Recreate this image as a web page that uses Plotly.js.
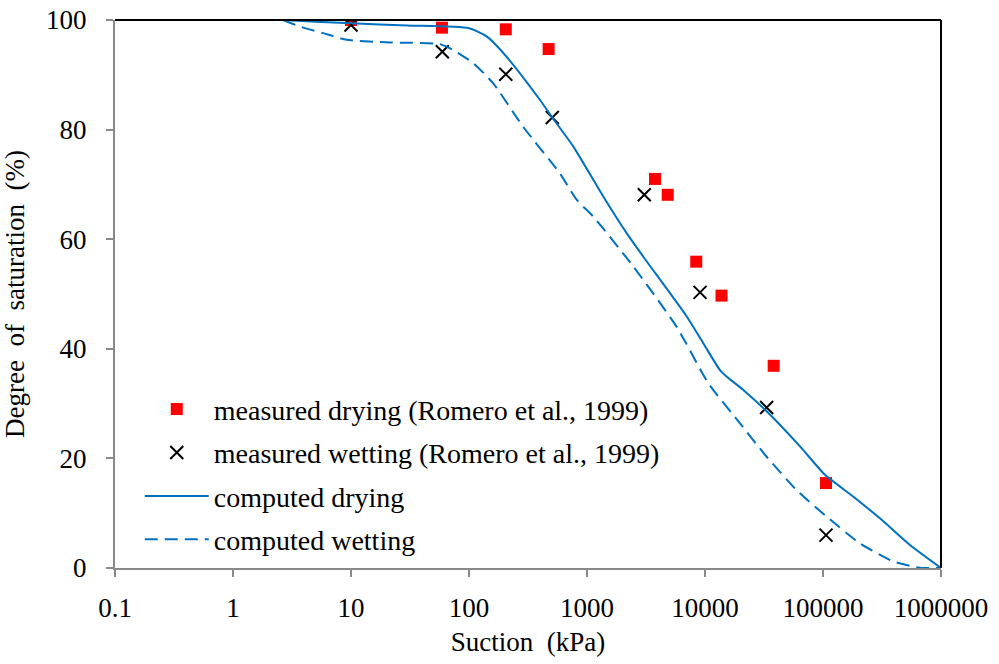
<!DOCTYPE html>
<html>
<head>
<meta charset="utf-8">
<script src="https://cdn.plot.ly/plotly-3.0.1.min.js"></script>
<style>
  html, body { margin: 0; padding: 0; background: #fff; }
  #chart { width: 999px; height: 664px; }
</style>
</head>
<body>
<div id="chart"></div>
<script>
// Measured water-retention points (Romero et al., 1999)
const dryingSuction = [10, 59, 205, 473, 3770, 4830, 8430, 13800, 38200, 106000];
const dryingSat     = [100, 98.6, 98.3, 94.7, 71.0, 68.1, 55.9, 49.7, 36.9, 15.5];

const wettingSuction = [10, 59.4, 205, 508, 3060, 9080, 33300, 106000];
const wettingSat     = [99.1, 94.2, 90.1, 82.2, 68.1, 50.3, 29.3, 6.0];

// Computed retention curves
const compDrySuction = [2.66, 5, 10, 30, 100, 141, 208, 400, 508, 766, 1373, 2168, 3000,
                        7000, 9680, 13400, 15300, 21100, 33300, 63800, 104000, 181000,
                        314000, 546000, 1000000];
const compDrySat     = [100, 99.7, 99.4, 99.0, 98.5, 97.0, 93.3, 85.4, 82.2, 76.9, 67.8, 61.1, 56.8,
                        45.9, 41.0, 36.1, 34.9, 32.5, 28.6, 22.2, 17.0, 13.0,
                        8.8, 4.2, 0];

const compWetSuction = [2.66, 3.7, 5.8, 9.2, 21.4, 56.8, 73.6, 109, 161, 288, 590, 817, 1132,
                        2472, 5754, 10700, 19800, 33300, 59800, 107000, 206000, 394000,
                        664000, 1000000];
const compWetSat     = [100, 98.8, 97.6, 96.4, 95.9, 95.6, 94.5, 92.1, 88.4, 80.5, 72.0, 67.2, 64.1,
                        55.0, 44.0, 33.7, 26.4, 20.3, 14.2, 9.4, 4.5, 1.2,
                        0.05, 0];

const xTickVals = [0.1, 1, 10, 100, 1000, 10000, 100000, 1000000];
const xTickText = ['0.1', '1', '10', '100', '1000', '10000', '100000', '1000000'];
const yTickVals = [0, 20, 40, 60, 80, 100];

const serif = 'Liberation Serif, Times New Roman, serif';
const blue = '#0070C0';
const axisGrey = '#898989';

const traces = [
  {
    x: dryingSuction, y: dryingSat, type: 'scatter', mode: 'markers',
    name: 'measured drying (Romero et al., 1999)', legendgroup: 'g1',
    marker: { symbol: 'square', size: 12, color: '#FF0000' }
  },
  {
    x: wettingSuction, y: wettingSat, type: 'scatter', mode: 'markers',
    name: 'measured wetting (Romero et al., 1999)', legendgroup: 'g2',
    marker: { symbol: 'x-thin', size: 13, color: '#000', line: { color: '#000', width: 2 } }
  },
  {
    x: compDrySuction, y: compDrySat, type: 'scatter', mode: 'lines',
    name: 'computed drying', legendgroup: 'g3',
    line: { color: blue, width: 2, shape: 'spline', smoothing: 0.6 }
  },
  {
    x: compWetSuction, y: compWetSat, type: 'scatter', mode: 'lines',
    name: 'computed wetting', legendgroup: 'g4',
    line: { color: blue, width: 2, dash: '13px,7px', shape: 'spline', smoothing: 0.6 }
  }
];

const layout = {
  width: 999, height: 664,
  margin: { l: 115, r: 58, t: 20, b: 96 },
  paper_bgcolor: '#fff', plot_bgcolor: '#fff',
  font: { family: serif, size: 27, color: '#000' },
  showlegend: true,
  legend: {
    x: 0.03, y: 0.335, xanchor: 'left', yanchor: 'top',
    bgcolor: 'rgba(0,0,0,0)', borderwidth: 0,
    font: { family: serif, size: 28, color: '#000' },
    itemwidth: 64, tracegroupgap: 4
  },
  xaxis: {
    type: 'log', range: [-1, 6],
    tickmode: 'array', tickvals: xTickVals, ticktext: xTickText,
    ticks: 'outside', ticklen: 7, tickwidth: 2, tickcolor: axisGrey,
    showline: true, linecolor: axisGrey, linewidth: 2,
    showgrid: false, zeroline: false,
    ticklabelstandoff: 8,
    tickfont: { family: serif, size: 27, color: '#000' },
    title: { text: 'Suction\u00a0 (kPa)', font: { family: serif, size: 27, color: '#000' }, standoff: 10 }
  },
  yaxis: {
    range: [0, 100],
    tickmode: 'array', tickvals: yTickVals,
    ticks: 'outside', ticklen: 7, tickwidth: 2, tickcolor: axisGrey,
    showline: true, linecolor: axisGrey, linewidth: 2,
    showgrid: false, zeroline: false,
    ticklabelstandoff: 14,
    tickfont: { family: serif, size: 27, color: '#000' },
    title: { text: 'Degree\u00a0 of\u00a0 saturation\u00a0 (%)', font: { family: serif, size: 27, color: '#000' }, standoff: 16 }
  },
  shapes: [
    // black frame on the top and right edges of the plotting area
    { type: 'line', xref: 'paper', yref: 'paper', x0: 0, x1: 1, y0: 1, y1: 1,
      line: { color: '#000', width: 2 } },
    { type: 'line', xref: 'paper', yref: 'paper', x0: 1, x1: 1, y0: 0, y1: 1,
      line: { color: '#000', width: 2 } }
  ]
};

Plotly.newPlot('chart', traces, layout, { displayModeBar: false, staticPlot: true });
</script>
</body>
</html>
